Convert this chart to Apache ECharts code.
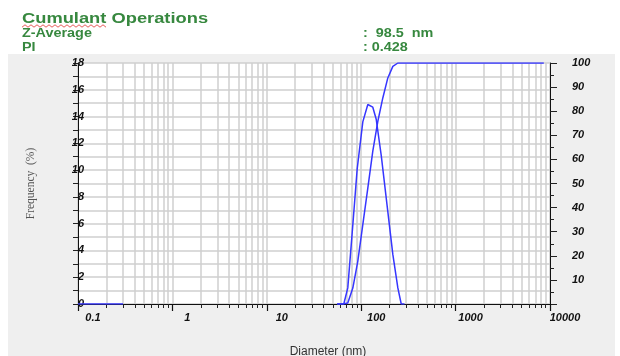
<!DOCTYPE html>
<html>
<head>
<meta charset="utf-8">
<script src="https://cdn.jsdelivr.net/npm/echarts@6/dist/echarts.min.js"></script>
<style>
html,body{margin:0;padding:0;background:#fff;}
#chart{width:620px;height:356px;}
</style>
</head>
<body>
<div id="chart"></div>
<script>
// ---- data ----
const freqDiam = [55.6, 65.4, 72.1, 81.5, 90.7, 104, 117.5, 132.7, 144.2, 163, 191.4, 216.3, 244.5, 265.5, 287.8];
const freqVals = [0, 0, 1.2, 5.9, 10.1, 13.6, 14.9, 14.7, 13.8, 11.1, 6.9, 3.7, 1.2, 0, 0];
const cumDiam = [55.6, 63.8, 72.1, 81.5, 92, 104, 117.5, 132.7, 150, 169.4, 191.4, 216.3, 244.5, 8600];
const cumVals = [0, 0, 0.4, 6.6, 17.7, 32.9, 48.1, 63.4, 75.8, 85.5, 93.8, 98.6, 100, 100];
const baseDiam = [0.1, 0.3];
const baseVals = [0, 0];
const xLabels = [0.1, 1, 10, 100, 1000, 10000];
const headerLines = [["Z-Average", ":  98.5  nm"], ["PI", ": 0.428"]];

// minor tick positions of the log axis
const xMinor = [];
for (let e = -1; e <= 3; e++) {
  for (let k = 1; k <= 9; k++) xMinor.push(parseFloat((k * Math.pow(10, e)).toPrecision(6)));
}
xMinor.push(10000);

const pairs = (xs, ys) => xs.map((x, i) => [x, ys[i]]);

const labelFont = { color: '#111', fontSize: 11, fontWeight: 'bold', fontStyle: 'italic', fontFamily: 'Liberation Sans, Arial, sans-serif' };
const green = '#37883f';
const lineColor = '#3636ff';
const gridColor = '#cfcfcf';
const hdrFont = 'bold 12px "Liberation Sans", Arial, sans-serif';

// squiggle under "Cumulant"
const squiggle = [];
for (let i = 0; i <= 28; i++) squiggle.push([22 + i * 3, 26 + (i % 2 ? -1.2 : 1.2)]);

function hdrText(x, y, text, font, sx) {
  return { type: 'text', x: x, y: y, scaleX: sx, originX: 0, originY: 0,
    style: { x: 0, y: 0, text: text, fill: green, font: font } };
}

const chart = echarts.init(document.getElementById('chart'), null, { renderer: 'canvas' });
chart.setOption({
  animation: false,
  backgroundColor: '#ffffff',
  graphic: [
    { type: 'rect', z: -10, shape: { x: 8, y: 54, width: 607, height: 302 }, style: { fill: '#efefef' } },
    hdrText(22, 11, 'Cumulant Operations', 'bold 15px "Liberation Sans", Arial, sans-serif', 1.22),
    { type: 'polyline', shape: { points: squiggle }, style: { stroke: '#e03030', lineWidth: 0.8, fill: null } },
    hdrText(22, 28, headerLines[0][0], hdrFont, 1.2),
    hdrText(22, 42, headerLines[1][0], hdrFont, 1.2),
    hdrText(363, 28, headerLines[0][1], hdrFont, 1.2),
    hdrText(363, 42, headerLines[1][1], hdrFont, 1.2)
  ],
  grid: { left: 78, right: 70, top: 63, bottom: 52, outerBoundsMode: 'none', containLabel: false,
    show: true, backgroundColor: '#ffffff', borderWidth: 0 },
  xAxis: [
    {
      type: 'log', min: 0.1, max: 10000, position: 'bottom',
      name: 'Diameter (nm)', nameLocation: 'middle', nameGap: 42,
      nameTextStyle: { color: '#333', fontSize: 12, fontFamily: 'Liberation Sans, Arial, sans-serif', padding: [0, 0, 0, 28] },
      axisLine: { show: true, lineStyle: { color: '#111', width: 1 } },
      axisTick: { show: true, customValues: xMinor, length: 4, lineStyle: { color: '#222' } },
      splitLine: { show: true, lineStyle: { color: gridColor, width: 1.5 } },
      axisLabel: Object.assign({ customValues: xLabels, margin: 8, padding: [0, 0, 0, 30],
        formatter: v => String(+parseFloat(v).toPrecision(6)) }, labelFont)
    },
    {
      type: 'log', min: 0.1, max: 10000, position: 'bottom', gridIndex: 0,
      axisLine: { show: false },
      axisTick: { show: true, customValues: xLabels, length: 7, lineStyle: { color: '#111', width: 1.2 } },
      splitLine: { show: false },
      axisLabel: { show: false }
    }
  ],
  yAxis: [
    {
      type: 'value', min: 0, max: 18, interval: 2, position: 'left',
      name: 'Frequency  (%)', nameLocation: 'middle', nameGap: 41,
      nameTextStyle: { color: '#555', fontSize: 11.5, fontFamily: 'Liberation Serif, Times New Roman, serif' },
      axisLine: { show: true, lineStyle: { color: '#111', width: 1 } },
      axisTick: { show: true, length: 5, lineStyle: { color: '#222' } },
      minorTick: { show: true, splitNumber: 2, length: 5, lineStyle: { color: '#222' } },
      splitLine: { show: true, lineStyle: { color: gridColor, width: 1.5 } },
      minorSplitLine: { show: true, lineStyle: { color: gridColor, width: 1.5 } },
      axisLabel: Object.assign({ margin: -6 }, labelFont)
    },
    {
      type: 'value', min: 0, max: 100, interval: 10, position: 'right',
      axisLine: { show: true, lineStyle: { color: '#111', width: 1 } },
      axisTick: { show: true, length: 7, lineStyle: { color: '#222' } },
      minorTick: { show: true, splitNumber: 2, length: 4, lineStyle: { color: '#222' } },
      splitLine: { show: false },
      axisLabel: Object.assign({ margin: 22, formatter: v => v === 0 ? '' : String(v) }, labelFont)
    }
  ],
  series: [
    { type: 'line', name: 'base', xAxisIndex: 0, yAxisIndex: 0, data: pairs(baseDiam, baseVals), showSymbol: false, lineStyle: { color: lineColor, width: 1.5 }, z: 5 },
    { type: 'line', name: 'Frequency', xAxisIndex: 0, yAxisIndex: 0, data: pairs(freqDiam, freqVals), showSymbol: false, lineStyle: { color: lineColor, width: 1.5 }, z: 5 },
    { type: 'line', name: 'Cumulative', xAxisIndex: 0, yAxisIndex: 1, data: pairs(cumDiam, cumVals), showSymbol: false, lineStyle: { color: lineColor, width: 1.5 }, z: 5 }
  ]
});
</script>
</body>
</html>
